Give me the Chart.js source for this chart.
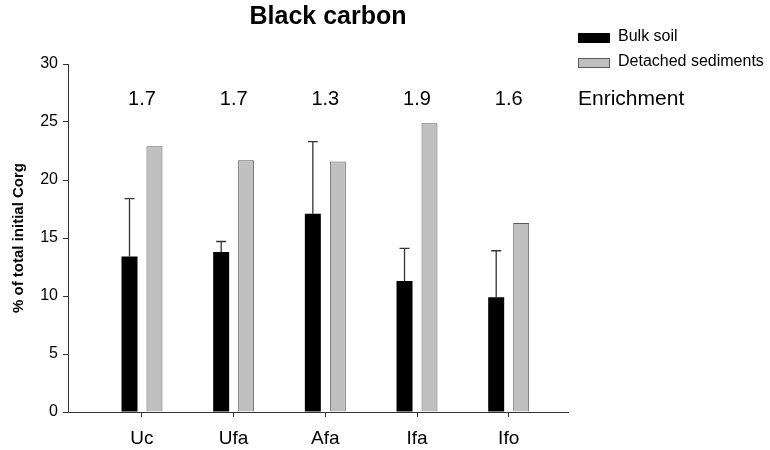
<!DOCTYPE html>
<html>
<head>
<meta charset="utf-8">
<script src="https://cdn.jsdelivr.net/npm/chart.js@4/dist/chart.umd.min.js"></script>
<style>
  html, body { margin: 0; padding: 0; background: #fff; }
</style>
</head>
<body>
<canvas id="chart" width="770" height="450"></canvas>
<script>
const categories = ['Uc', 'Ufa', 'Afa', 'Ifa', 'Ifo'];
const bulkSoil = [13.4, 13.8, 17.1, 11.3, 9.9];
const bulkSoilErr = [5.0, 0.9, 6.2, 2.8, 4.0];
const detachedSediments = [22.9, 21.7, 21.6, 24.9, 16.3];
const enrichment = ['1.7', '1.7', '1.3', '1.9', '1.6'];
const yTicks = [0, 5, 10, 15, 20, 25, 30];

const FONT = "'Liberation Sans', Arial, Helvetica, sans-serif";

// error bars on top of bulk soil bars
const errorBars = {
    id: 'errorBars',
    afterDatasetsDraw(chart) {
        const ctx = chart.ctx;
        const y = chart.scales.y;
        const meta = chart.getDatasetMeta(0);
        ctx.save();
        ctx.strokeStyle = '#333';
        ctx.lineWidth = 1.3;
        meta.data.forEach((bar, i) => {
            const top = y.getPixelForValue(bulkSoil[i] + bulkSoilErr[i]);
            ctx.beginPath();
            ctx.moveTo(bar.x, bar.y);
            ctx.lineTo(bar.x, top);
            ctx.moveTo(bar.x - 5, top);
            ctx.lineTo(bar.x + 5, top);
            ctx.stroke();
        });
        ctx.restore();
    }
};

// title, legend and enrichment row
const extras = {
    id: 'extras',
    afterDraw(chart) {
        const ctx = chart.ctx;
        const x = chart.scales.x;
        ctx.save();
        ctx.fillStyle = '#000';
        ctx.textBaseline = 'middle';

        ctx.font = 'bold 25px ' + FONT;
        ctx.textAlign = 'center';
        ctx.fillText('Black carbon', 328, 17);

        ctx.font = '20px ' + FONT;
        enrichment.forEach((e, i) => {
            ctx.fillText(e, x.getPixelForValue(i), 99);
        });
        ctx.textAlign = 'left';
        ctx.font = '21px ' + FONT;
        ctx.fillText('Enrichment', 578, 99);

        const ds = chart.data.datasets;
        ctx.font = '16px ' + FONT;
        [33, 58].forEach((top, k) => {
            ctx.fillStyle = ds[k].backgroundColor;
            ctx.fillRect(578, top, 32, 10);
            if (k === 1) {
                ctx.strokeStyle = ds[k].borderColor;
                ctx.lineWidth = 1;
                ctx.strokeRect(578.5, top + 0.5, 31, 9);
            }
            ctx.fillStyle = '#000';
            ctx.fillText(ds[k].label, 618, top + 4);
        });
        ctx.restore();
    }
};

new Chart(document.getElementById('chart'), {
    type: 'bar',
    data: {
        datasets: [{
            label: 'Bulk soil',
            data: bulkSoil.map((v, i) => ({ x: i, y: v })),
            backgroundColor: '#000',
            borderWidth: 0,
            categoryPercentage: 0.545,
            barPercentage: 0.64
        }, {
            label: 'Detached sediments',
            data: detachedSediments.map((v, i) => ({ x: i, y: v })),
            backgroundColor: '#c0c0c0',
            borderColor: '#5a5a5a',
            borderWidth: 1,
            categoryPercentage: 0.545,
            barPercentage: 0.64
        }]
    },
    options: {
        responsive: false,
        animation: false,
        devicePixelRatio: 1,
        layout: { padding: { top: 64, right: 202, left: 0, bottom: 0 } },
        plugins: {
            legend: { display: false },
            tooltip: { enabled: false }
        },
        scales: {
            x: {
                type: 'linear',
                min: -0.807,
                max: 4.647,
                offset: false,
                afterFit: s => { s.height = 38; },
                afterBuildTicks: s => { s.ticks = categories.map((c, i) => ({ value: i })); },
                border: { display: true, color: '#333', width: 1 },
                grid: { offset: false, drawOnChartArea: false, drawTicks: true, tickLength: 5, color: '#333' },
                ticks: {
                    callback: v => categories[v],
                    color: '#000',
                    font: { family: FONT, size: 19 },
                    padding: 10
                }
            },
            y: {
                min: 0,
                max: 30,
                afterFit: s => { s.width = 68; },
                afterBuildTicks: s => { s.ticks = yTicks.map(v => ({ value: v })); },
                border: { display: true, color: '#333', width: 1 },
                grid: { drawOnChartArea: false, drawTicks: true, tickLength: 5, color: '#333' },
                ticks: {
                    color: '#000',
                    font: { family: FONT, size: 16 },
                    padding: 5
                },
                title: {
                    display: true,
                    text: '% of total initial Corg',
                    color: '#000',
                    font: { family: FONT, size: 15, weight: 'bold' },
                    padding: { top: 10, bottom: 0 }
                }
            }
        }
    },
    plugins: [errorBars, extras]
});
</script>
</body>
</html>
